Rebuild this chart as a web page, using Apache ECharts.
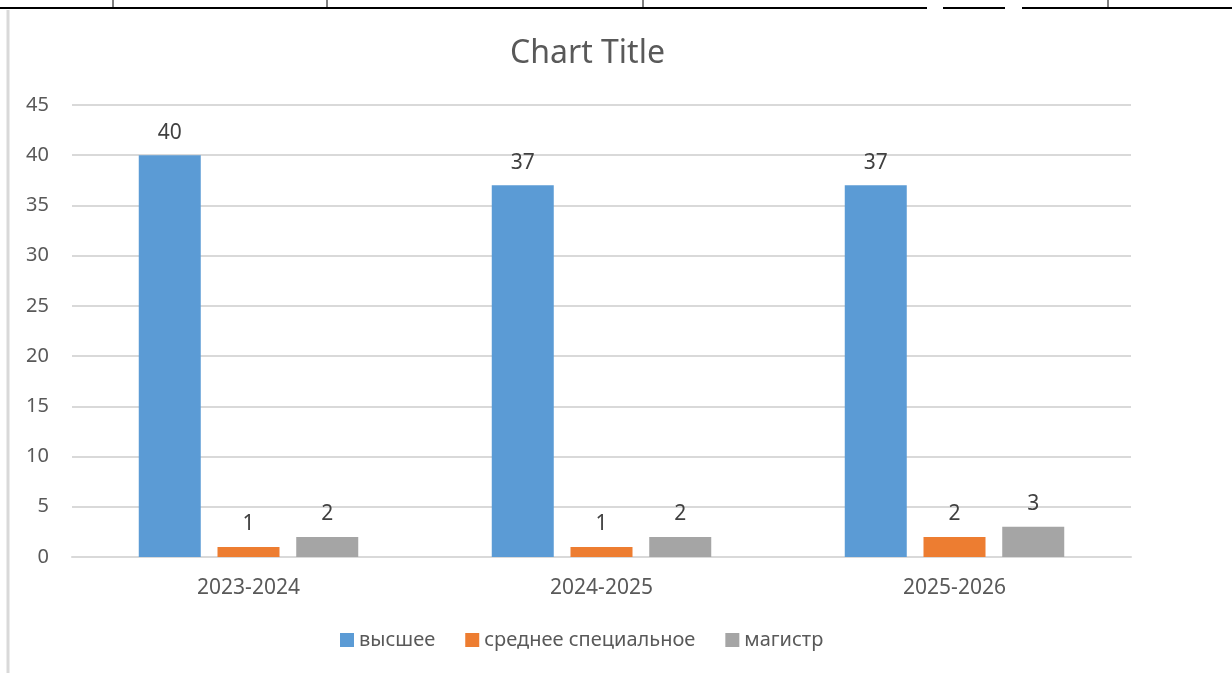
<!DOCTYPE html>
<html>
<head>
<meta charset="utf-8">
<script src="https://cdn.jsdelivr.net/npm/echarts@6/dist/echarts.min.js"></script>
<style>
html,body{margin:0;padding:0;background:#fff;}
#chart{width:1232px;height:673px;}
</style>
</head>
<body>
<div id="chart"></div>
<script>
const categories = ['2023-2024', '2024-2025', '2025-2026'];
const higher = [40, 37, 37];
const secondarySpecial = [1, 1, 2];
const master = [2, 2, 3];
const seriesNames = ['высшее', 'среднее специальное', 'магистр'];
const yTicks = [0, 5, 10, 15, 20, 25, 30, 35, 40, 45];

const FONT = '"Noto Sans", "Open Sans", sans-serif';
const chart = echarts.init(document.getElementById('chart'), null, {renderer: 'canvas'});

const labelStyle = {
  show: true,
  position: 'top',
  distance: 12,
  color: '#404040',
  fontSize: 21,
  fontFamily: FONT
};

chart.setOption({
  animation: false,
  backgroundColor: '#ffffff',
  title: {
    text: 'Chart Title',
    left: 505,
    top: 33,
    textStyle: {color: '#595959', fontSize: 32, fontWeight: 'normal', fontFamily: FONT}
  },
  legend: {
    bottom: 18,
    left: 335,
    itemWidth: 14,
    itemHeight: 14,
    itemGap: 30,
    icon: 'rect',
    textStyle: {color: '#595959', fontSize: 20, fontFamily: FONT},
    data: seriesNames
  },
  grid: {left: 72, right: 101, top: 105, bottom: 116, containLabel: false},
  xAxis: {
    type: 'category',
    data: categories,
    axisLine: {show: true, lineStyle: {color: '#d9d9d9', width: 2}},
    axisTick: {show: false},
    axisLabel: {color: '#595959', fontSize: 21, fontFamily: FONT, margin: 21}
  },
  yAxis: {
    type: 'value',
    min: yTicks[0],
    max: yTicks[yTicks.length - 1],
    interval: 5,
    axisLine: {show: false},
    axisTick: {show: false},
    axisLabel: {color: '#595959', fontSize: 20, fontFamily: FONT, margin: 23},
    splitLine: {lineStyle: {color: '#d9d9d9', width: 2}}
  },
  series: [
    {name: seriesNames[0], type: 'bar', data: higher, barWidth: 62, barGap: '27%',
     itemStyle: {color: '#5B9BD5'}, label: labelStyle},
    {name: seriesNames[1], type: 'bar', data: secondarySpecial, barWidth: 62, barGap: '27%',
     itemStyle: {color: '#ED7D31'}, label: labelStyle},
    {name: seriesNames[2], type: 'bar', data: master, barWidth: 62, barGap: '27%',
     itemStyle: {color: '#A5A5A5'}, label: labelStyle}
  ],
  graphic: [
    {type: 'line', shape: {x1: 8, y1: 10, x2: 8, y2: 673}, style: {stroke: '#d9d9d9', lineWidth: 3}},
    {type: 'line', shape: {x1: 0, y1: 8, x2: 927, y2: 8}, style: {stroke: '#000', lineWidth: 2}},
    {type: 'line', shape: {x1: 943, y1: 8, x2: 1005, y2: 8}, style: {stroke: '#000', lineWidth: 2}},
    {type: 'line', shape: {x1: 1022, y1: 8, x2: 1232, y2: 8}, style: {stroke: '#000', lineWidth: 2}},
    {type: 'line', shape: {x1: 113, y1: 0, x2: 113, y2: 8}, style: {stroke: '#000', lineWidth: 1}},
    {type: 'line', shape: {x1: 327, y1: 0, x2: 327, y2: 8}, style: {stroke: '#000', lineWidth: 1}},
    {type: 'line', shape: {x1: 643, y1: 0, x2: 643, y2: 8}, style: {stroke: '#000', lineWidth: 1}},
    {type: 'line', shape: {x1: 1108, y1: 0, x2: 1108, y2: 8}, style: {stroke: '#000', lineWidth: 1}}
  ]
});
</script>
</body>
</html>
